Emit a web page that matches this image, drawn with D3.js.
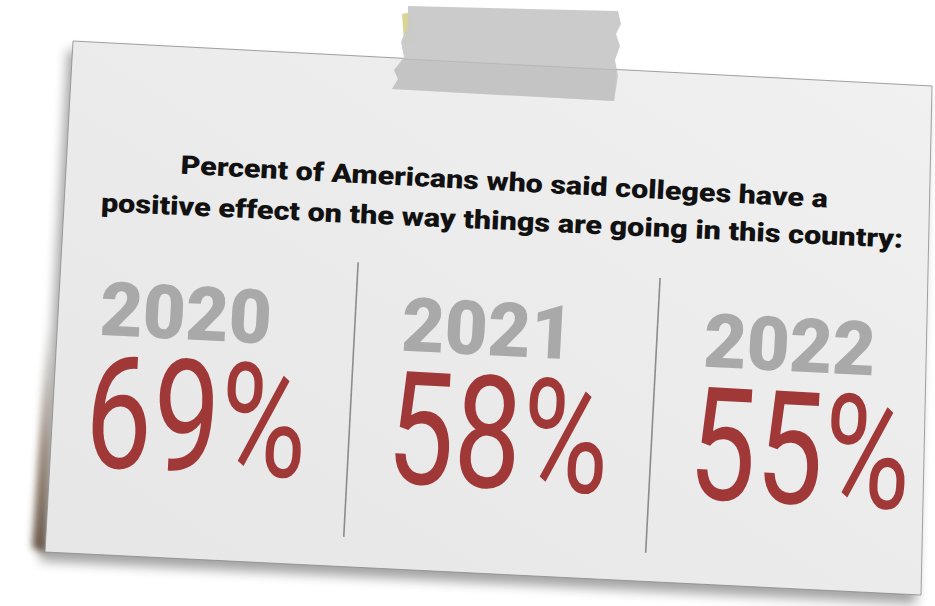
<!DOCTYPE html>
<html><head><meta charset="utf-8">
<script src="https://cdn.jsdelivr.net/npm/d3@7"></script>
<style>html,body{margin:0;padding:0;background:#fff;}svg{display:block}</style>
</head><body>
<script>
// ---- data ----
const titleLines = [
  "Percent of Americans who said colleges have a",
  "positive effect on the way things are going in this country:"
];
const years = ["2020", "2021", "2022"];
const values = [69, 58, 55];
const valueLabels = values.map(v => v + "%");

// ---- layout ----
const W = 935, H = 606;
const svg = d3.select("body").append("svg").attr("width", W).attr("height", H);
const defs = svg.append("defs");

defs.append("filter").attr("id", "blur").attr("x", "-20%").attr("y", "-20%").attr("width", "140%").attr("height", "140%")
  .append("feGaussianBlur").attr("stdDeviation", 6);
defs.append("filter").attr("id", "blurS").attr("x", "-50%").attr("y", "-50%").attr("width", "200%").attr("height", "200%")
  .append("feGaussianBlur").attr("stdDeviation", 3.5);

const cardGrad = defs.append("linearGradient").attr("id", "cardGrad")
  .attr("x1", 0).attr("y1", 1).attr("x2", 1).attr("y2", 0);
cardGrad.append("stop").attr("offset", 0).attr("stop-color", "#e6e6e6");
cardGrad.append("stop").attr("offset", 0.5).attr("stop-color", "#ebebeb");
cardGrad.append("stop").attr("offset", 1).attr("stop-color", "#f1f1f1");

const brownGrad = defs.append("linearGradient").attr("id", "brownGrad")
  .attr("x1", 0).attr("y1", 0).attr("x2", 0).attr("y2", 1);
brownGrad.append("stop").attr("offset", 0).attr("stop-color", "#5a3e22").attr("stop-opacity", 0);
brownGrad.append("stop").attr("offset", 0.5).attr("stop-color", "#5a3e22").attr("stop-opacity", 0.5);
brownGrad.append("stop").attr("offset", 1).attr("stop-color", "#4a3320").attr("stop-opacity", 0.8);

const card = [[73, 41], [932, 86], [921, 595], [45, 552]];
const line = d3.line();

// shadow
svg.append("path")
  .attr("d", line(card.map(([x, y]) => [x - 5, y + 9])) + "Z")
  .attr("fill", "#000").attr("opacity", 0.36).attr("filter", "url(#blur)");
// brownish edge shadow on lower left
svg.append("path")
  .attr("d", line([[52, 330], [46, 553], [32, 548], [46, 330]]) + "Z")
  .attr("fill", "url(#brownGrad)").attr("filter", "url(#blurS)");

// card
svg.append("path")
  .attr("d", line(card) + "Z")
  .attr("fill", "url(#cardGrad)")
  .attr("stroke", "#8a8a8a").attr("stroke-width", 0.8);

// tape
const tapeG = svg.append("g");
tapeG.append("path")
  .attr("d", line([[402, 14], [412, 12], [414, 42], [404, 44]]) + "Z")
  .attr("fill", "#d8cf8c").attr("opacity", 0.9);
const tape = [[408, 6], [618, 11], [621, 24], [616, 34], [620, 46], [615, 60], [618, 76], [614, 101],
  [392, 89], [398, 79], [394, 70], [404, 57], [401, 42], [408, 26]];
tapeG.append("path").attr("d", line(tape) + "Z")
  .attr("fill", "#c9c9c9").attr("opacity", 0.96);
tapeG.append("path")
  .attr("d", line([[403, 59], [617, 70]]))
  .attr("stroke", "#b8b8b8").attr("stroke-width", 1.2).attr("fill", "none");
tapeG.append("path").attr("d", line([[404, 59], [617, 70], [614, 101], [392, 89], [398, 79], [394, 70]]) + "Z")
  .attr("fill", "#bdbdbd").attr("opacity", 0.45);

// content in the card's rotated frame
const g = svg.append("g").attr("transform", "translate(73,41) rotate(3)");
const font = "Roboto, 'Noto Sans', sans-serif";

// title
const titleY = [127, 166];
const titleLen = [648, 803];
g.selectAll("text.title").data(titleLines).join("text")
  .attr("class", "title")
  .attr("x", 438).attr("y", (d, i) => titleY[i])
  .attr("text-anchor", "middle")
  .attr("font-family", font).attr("font-weight", 900).attr("font-size", 26)
  .attr("fill", "#111")
  .attr("textLength", (d, i) => titleLen[i]).attr("lengthAdjust", "spacingAndGlyphs")
  .attr("transform", (d, i) => i === 1 ? "rotate(-0.4,438,166)" : null)
  .text(d => d);

// columns
const x = d3.scaleBand().domain(years).range([41, 948]).padding(0);

g.selectAll("line.div").data(years.slice(1)).join("line")
  .attr("class", "div")
  .attr("x1", d => x(d) - 47).attr("x2", d => x(d) - 47)
  .attr("y1", 206).attr("y2", 481)
  .attr("stroke", "#8c8c8c").attr("stroke-width", 1.6);

g.selectAll("text.year").data(years).join("text")
  .attr("class", "year")
  .attr("x", d => x(d)).attr("y", 292)
  .attr("font-family", font).attr("font-weight", 900).attr("font-size", 75)
  .attr("fill", "#a9a9a9")
  .attr("textLength", 172).attr("lengthAdjust", "spacingAndGlyphs")
  .text(d => d);

g.selectAll("text.val").data(valueLabels).join("text")
  .attr("class", "val")
  .attr("x", (d, i) => x(years[i]) - 9).attr("y", 424)
  .attr("font-family", font).attr("font-weight", 400).attr("font-size", 157)
  .attr("fill", "#a03838")
  .attr("textLength", 222).attr("lengthAdjust", "spacingAndGlyphs")
  .text(d => d);
</script>
</body></html>
